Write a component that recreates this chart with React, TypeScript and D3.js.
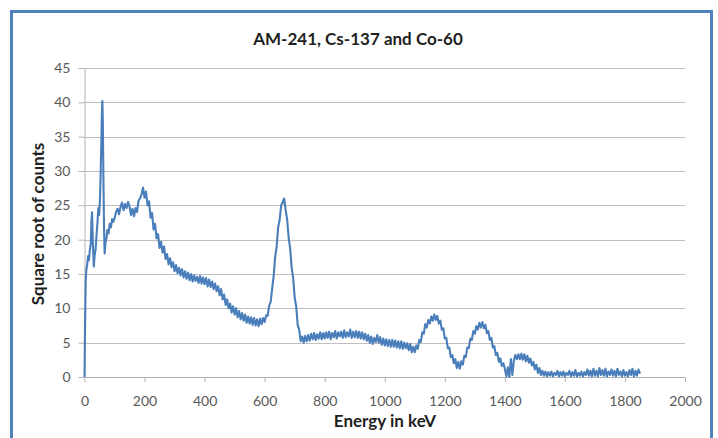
import React, { useEffect, useRef } from 'react';
import * as d3 from 'd3';

const chartTitle = 'AM-241, Cs-137 and Co-60';
const xTitle = 'Energy in keV';
const yTitle = 'Square root of counts';
const xTicks = [0, 200, 400, 600, 800, 1000, 1200, 1400, 1600, 1800, 2000];
const yTicks = [0, 5, 10, 15, 20, 25, 30, 35, 40, 45];

// under 100 keV the readings are taken point by point (Am-241 lines)
const lowEnergy = [0, 2, 4, 6, 9, 12, 15, 18, 21, 23, 25, 27, 29, 31, 34, 37, 40, 43, 46, 49, 52, 54, 56, 58, 59.5, 61, 63, 65, 67, 70, 73, 76, 80, 84, 88, 92, 96];
const lowCounts = [0, 8, 14, 15.6, 16.4, 17.6, 17.0, 18.6, 19.4, 22.5, 24.0, 20.8, 18.2, 16.1, 17.8, 18.6, 20.6, 22.4, 24.6, 23.6, 26.5, 30, 34, 38.5, 40.2, 37.5, 29, 22, 18.0, 19.6, 20.2, 21.4, 20.9, 22.3, 21.8, 23.0, 22.6];

// from 100 keV on, one reading every 5 keV (10 per row = 50 keV)
const mainStart = 100;
const mainStep = 5;
const mainCounts = [
  23.1, 24.0, 24.5, 23.7, 24.8, 25.4, 24.3, 25.2, 24.6, 25.5,
  24.8, 23.6, 24.5, 23.4, 24.6, 24.0, 25.7, 26.0, 26.6, 27.6,
  26.1, 27.0, 25.0, 25.6, 23.2, 23.9, 21.5, 22.3, 20.2, 20.8,
  18.8, 19.7, 18.1, 19.0, 17.2, 17.9, 16.4, 17.3, 16.0, 16.7,
  15.4, 16.3, 15.1, 15.9, 14.8, 15.7, 14.5, 15.4, 14.3, 15.2,
  14.1, 15.0, 13.9, 14.8, 14.0, 14.6, 13.7, 14.7, 13.6, 14.5,
  13.5, 14.4, 13.2, 14.2, 13.1, 13.9, 12.8, 13.6, 12.5, 13.2,
  11.9, 12.8, 11.3, 12.0, 10.5, 11.3, 10.0, 10.7, 9.4, 10.3,
  9.1, 10.0, 8.7, 9.6, 8.4, 9.3, 8.2, 9.1, 7.9, 8.8,
  7.8, 8.7, 7.6, 8.6, 7.5, 8.4, 7.4, 8.5, 7.7, 8.6,
  8.0, 9.0, 8.9, 10.4, 10.9, 12.9, 14.7, 17.5, 19.0, 21.8,
  22.9, 25.0, 25.4, 26.0, 24.3, 22.9, 20.3, 18.7, 15.9, 14.4,
  11.6, 10.3, 7.6, 6.9, 5.2, 5.9, 5.0, 6.0, 5.2, 6.1,
  5.3, 6.3, 5.5, 6.4, 5.4, 6.2, 5.6, 6.5, 5.5, 6.4,
  5.6, 6.5, 5.7, 6.6, 5.5, 6.4, 5.8, 6.7, 5.6, 6.5,
  5.9, 6.6, 5.7, 6.8, 5.8, 6.5, 5.9, 6.9, 5.7, 6.6,
  5.8, 6.7, 5.7, 6.6, 5.6, 6.5, 5.5, 6.3, 5.3, 6.1,
  5.0, 5.9, 4.8, 5.7, 5.1, 6.1, 5.0, 5.8, 4.7, 5.6,
  4.6, 5.5, 4.5, 5.4, 4.4, 5.4, 4.4, 5.3, 4.3, 5.2,
  4.2, 5.2, 4.1, 5.0, 4.2, 4.9, 3.9, 4.8, 3.6, 4.4,
  3.6, 4.6, 4.1, 5.4, 5.1, 6.5, 6.3, 7.7, 7.2, 8.3,
  7.8, 8.8, 8.2, 9.1, 8.3, 8.9, 7.8, 8.2, 6.9, 7.1,
  5.6, 5.7, 4.2, 4.3, 2.9, 3.2, 2.0, 2.6, 1.3, 2.2,
  1.2, 2.3, 1.8, 3.1, 2.9, 4.3, 4.2, 5.6, 5.4, 6.7,
  6.3, 7.4, 6.9, 7.9, 7.2, 8.0, 7.1, 7.6, 6.4, 6.7,
  5.4, 5.7, 4.3, 4.5, 3.2, 3.5, 2.2, 2.7, 1.6, 2.0,
  1.2, 0.1, 1.4, 0.0, 2.6, 0.3, 2.4, 3.2, 2.6, 3.3,
  2.6, 3.4, 2.5, 3.3, 2.3, 3.1, 2.1, 2.7, 1.7, 2.2,
  1.1, 1.8, 0.6, 1.3, 0.3, 0.9, 0.2, 0.8, 0.1, 0.7,
  0.2, 0.8, 0.1, 0.6, 0.3, 0.9, 0.1, 0.7, 0.2, 0.8,
  0.1, 0.6, 0.3, 0.9, 0.1, 0.7, 0.2, 1.0, 0.1, 0.6,
  0.2, 0.8, 0.1, 0.7, 0.3, 1.1, 0.2, 0.9, 0.1, 1.2,
  0.2, 0.9, 0.1, 1.3, 0.3, 1.0, 0.2, 1.2, 0.1, 0.8,
  0.3, 1.1, 0.2, 0.9, 0.1, 1.2, 0.3, 0.8, 0.1, 1.0,
  0.2, 0.7, 0.1, 1.0, 0.3, 1.2, 0.1, 0.9, 0.2, 1.1,
  0.5
];

const W = 718;
const H = 438;
const font = 'Lato, "Open Sans", sans-serif';

export default function App() {
  const svgRef = useRef<SVGSVGElement>(null);

  useEffect(() => {
    const svg = d3.select(svgRef.current);
    svg.selectAll('*').remove();

    const x = d3.scaleLinear().domain([0, 2000]).range([84.5, 685]);
    const y = d3.scaleLinear().domain([0, 45]).range([377, 68]);

    const points: [number, number][] = lowEnergy.map((e, i) => [e, lowCounts[i]] as [number, number])
      .concat(mainCounts.map((v, i) => [mainStart + i * mainStep, v] as [number, number]));

    svg.append('rect').attr('width', W).attr('height', H).attr('fill', '#fff');
    // the blue frame round the chart
    svg.append('rect')
      .attr('x', 11.5).attr('y', 11.5)
      .attr('width', 700).attr('height', 450)
      .attr('fill', 'none').attr('stroke', '#4f81bd').attr('stroke-width', 3);

    // gridlines
    svg.append('g')
      .selectAll('line')
      .data(yTicks.filter(t => t > 0))
      .enter().append('line')
      .attr('x1', x(0)).attr('x2', x(2000))
      .attr('y1', d => Math.round(y(d)) + 0.5).attr('y2', d => Math.round(y(d)) + 0.5)
      .attr('stroke', '#bfbfbf').attr('stroke-width', 1);

    const yAxis = svg.append('g')
      .attr('transform', `translate(${x(0)},0)`)
      .call(d3.axisLeft(y).tickValues(yTicks).tickSize(6).tickSizeOuter(0).tickPadding(8));
    const xAxis = svg.append('g')
      .attr('transform', `translate(0,${y(0)})`)
      .call(d3.axisBottom(x).tickValues(xTicks).tickFormat(d3.format('d')).tickSize(5).tickSizeOuter(0).tickPadding(14));

    [yAxis, xAxis].forEach(g => {
      g.select('.domain').attr('stroke', '#b3b3b3');
      g.selectAll('.tick line').attr('stroke', '#b3b3b3');
      g.selectAll('.tick text')
        .attr('fill', '#595959')
        .style('font-family', font)
        .style('font-size', '14px');
    });

    const line = d3.line<[number, number]>()
      .x(d => x(d[0]))
      .y(d => y(d[1]));

    svg.append('path')
      .datum(points)
      .attr('d', line)
      .attr('fill', 'none')
      .attr('stroke', '#4a7ebb')
      .attr('stroke-width', 2.1)
      .attr('stroke-linejoin', 'round');

    svg.append('text')
      .attr('x', 358).attr('y', 45)
      .attr('text-anchor', 'middle')
      .style('font-family', font).style('font-size', '17px').style('font-weight', 'bold')
      .attr('fill', '#1f1f1f')
      .text(chartTitle);

    svg.append('text')
      .attr('x', 385).attr('y', 427)
      .attr('text-anchor', 'middle')
      .style('font-family', font).style('font-size', '17px').style('font-weight', 'bold')
      .attr('fill', '#1f1f1f')
      .text(xTitle);

    svg.append('text')
      .attr('transform', `translate(44,224) rotate(-90)`)
      .attr('text-anchor', 'middle')
      .style('font-family', font).style('font-size', '17px').style('font-weight', 'bold')
      .attr('fill', '#1f1f1f')
      .text(yTitle);
  }, []);

  return (
    <svg ref={svgRef} width={W} height={H}
      style={{ position: 'absolute', left: 0, top: 0, display: 'block' }} />
  );
}
